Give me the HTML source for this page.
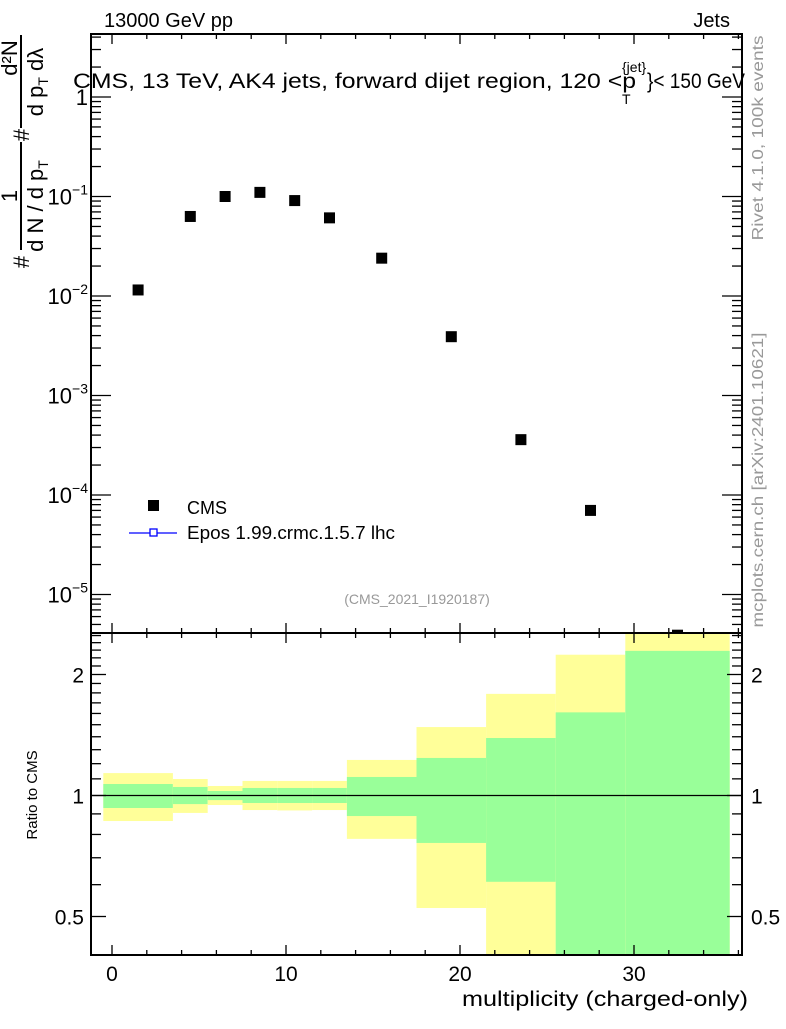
<!DOCTYPE html>
<html><head><meta charset="utf-8"><style>
body{margin:0;background:#fff}
svg text{font-family:"Liberation Sans",sans-serif}
</style></head><body>
<svg id="c" width="786" height="1024" xmlns="http://www.w3.org/2000/svg">
<g id="bands"></g>
<g id="marks"></g>
<g id="axes"></g>
<text x="104" y="27" font-size="20">13000 GeV pp</text>
<text x="730" y="27" font-size="20" text-anchor="end">Jets</text>
<g>
<text x="73" y="88" font-size="21" textLength="563" lengthAdjust="spacingAndGlyphs">CMS, 13 TeV, AK4 jets, forward dijet region, 120 &lt;p</text>
<text x="622" y="72" font-size="14">{jet}</text>
<text x="622" y="104" font-size="14">T</text>
<text x="647" y="88" font-size="21" textLength="98" lengthAdjust="spacingAndGlyphs">}&lt; 150 GeV</text>
</g>
<g font-size="22">
<line x1="21" y1="35" x2="21" y2="128" stroke="#000" stroke-width="2"/>
<line x1="21" y1="142" x2="21" y2="250" stroke="#000" stroke-width="2"/>
<text transform="translate(17,58) rotate(-90)" text-anchor="middle">d²N</text>
<text transform="translate(43,82) rotate(-90)" text-anchor="middle">d p<tspan font-size="14" dy="5">T</tspan><tspan dy="-5"> dλ</tspan></text>
<text transform="translate(29,135) rotate(-90)" text-anchor="middle">#</text>
<text transform="translate(17,196) rotate(-90)" text-anchor="middle">1</text>
<text transform="translate(43,206) rotate(-90)" text-anchor="middle">d N / d p<tspan font-size="14" dy="5">T</tspan></text>
<text transform="translate(29,262) rotate(-90)" text-anchor="middle">#</text>
</g>
<text transform="translate(37,795) rotate(-90)" font-size="15" text-anchor="middle">Ratio to CMS</text>
<text x="748" y="1006" font-size="21" text-anchor="end" textLength="286" lengthAdjust="spacingAndGlyphs">multiplicity (charged-only)</text>
<text transform="translate(763,138) rotate(-90)" font-size="16" fill="#999" text-anchor="middle" textLength="205" lengthAdjust="spacingAndGlyphs">Rivet 4.1.0,  100k events</text>
<text transform="translate(763,480) rotate(-90)" font-size="16" fill="#999" text-anchor="middle" textLength="295" lengthAdjust="spacingAndGlyphs">mcplots.cern.ch [arXiv:2401.10621]</text>
<text x="417" y="604" font-size="14" fill="#999" text-anchor="middle">(CMS_2021_I1920187)</text>
<g>
<rect x="148" y="500" width="11" height="11" fill="#000"/>
<text x="187" y="514" font-size="18">CMS</text>
<line x1="129" y1="533" x2="177" y2="533" stroke="#00f" stroke-width="1.3"/>
<rect x="150" y="529" width="7" height="7" fill="#fff" stroke="#00f" stroke-width="1.3"/>
<text x="187" y="539" font-size="18" textLength="208" lengthAdjust="spacingAndGlyphs">Epos 1.99.crmc.1.5.7 lhc</text>
</g>
</svg>
<script>
const binEdges=[-0.5,3.5,5.5,7.5,9.5,11.5,13.5,17.5,21.5,25.5,29.5,35.5];
const cmsX=[1.5,4.5,6.5,8.5,10.5,12.5,15.5,19.5,23.5,27.5,32.5];
const cmsY=[0.0115,0.063,0.1,0.11,0.091,0.061,0.024,0.0039,0.00036,0.00007,0.0000039];
const yellowHi=[1.137,1.099,1.056,1.087,1.087,1.087,1.226,1.48,1.79,2.24,2.7];
const yellowLo=[0.864,0.905,0.947,0.920,0.918,0.920,0.780,0.525,0.3,0.2,0.2];
const greenHi=[1.068,1.050,1.026,1.044,1.044,1.044,1.112,1.24,1.39,1.61,2.29];
const greenLo=[0.931,0.952,0.974,0.958,0.958,0.958,0.889,0.762,0.61,0.2,0.2];
const xTicks=[0,10,20,30];
const yTickExp=[0,-1,-2,-3,-4,-5];
const rTicks=[0.5,1,2];
const NS='http://www.w3.org/2000/svg';
const L=91,R=742,T=34,M=633,B=955;
const X=v=>112+v*17.4;
const Y=v=>97-Math.log10(v)*99.5;
const RY=v=>795.5-Math.log2(v)*121;
const clampR=y=>Math.max(M,Math.min(B,y));
function mk(tag,attrs,parent){const e=document.createElementNS(NS,tag);for(const k in attrs)e.setAttribute(k,attrs[k]);parent.appendChild(e);return e;}
const bands=document.getElementById('bands'),marks=document.getElementById('marks'),axes=document.getElementById('axes');
for(let i=0;i<binEdges.length-1;i++){
  const x0=X(binEdges[i]),x1=X(binEdges[i+1]);
  let y0=clampR(RY(yellowHi[i])),y1=clampR(RY(yellowLo[i]));
  const yb=mk('rect',{x:x0,y:y0,width:x1-x0,height:y1-y0,fill:'#ffff99'},bands);
  
  
  y0=clampR(RY(greenHi[i]));y1=clampR(RY(greenLo[i]));
  const gb=mk('rect',{x:x0,y:y0,width:x1-x0,height:y1-y0,fill:'#99ff99'},bands);
  
  
}
mk('line',{x1:L,y1:RY(1),x2:R,y2:RY(1),stroke:'#000','stroke-width':1.3},bands);
const clip=mk('clipPath',{id:'cp'},document.getElementById('c'));
mk('rect',{x:L,y:T,width:R-L,height:M-T},clip);
marks.setAttribute('clip-path','url(#cp)');
for(let i=0;i<cmsX.length;i++){
  const p=mk('rect',{x:X(cmsX[i])-5.5,y:Y(cmsY[i])-5.5,width:11,height:11,fill:'#000'},marks);
  
  
}
const ln=(a,b,c,d,w)=>mk('line',{x1:a,y1:b,x2:c,y2:d,stroke:'#000','stroke-width':w||1.3},axes);
mk('rect',{x:L,y:T,width:R-L,height:B-T,fill:'none',stroke:'#000','stroke-width':2},axes);
ln(L,M,R,M,2);
for(let v=-1;v<=36;v++){
  const x=X(v);if(x<L||x>R)continue;
  const len=v%10===0?10:(v%2===0?5:0);if(!len)continue;
  [[T,1],[M,-1],[M,1],[B,-1]].forEach(([y,s])=>ln(x,y,x,y+s*len));
}
xTicks.forEach(v=>{const t=mk('text',{x:X(v),y:981,'font-size':21,'text-anchor':'middle'},axes);t.textContent=v;
 
 });
for(let e=1;e>=-6;e--){for(let m=1;m<10;m++){const y=Y(m*Math.pow(10,e));if(y<T||y>M)continue;const len=m===1?20:10;ln(L,y,L+len,y);ln(R,y,R-len,y);}}
yTickExp.forEach(e=>{
  const t=mk('text',{x:88,y:Y(Math.pow(10,e))+8,'font-size':22,'text-anchor':'end'},axes);
  
  
  if(e===0)t.textContent='1';else{t.textContent='10';const s=mk('tspan',{'font-size':14,dy:-10},t);s.textContent='\u2212'+(-e);}
});
for(let v=0.4;v<=2.6001;v+=0.1){const y=RY(v);if(y<M||y>B)continue;const maj=Math.abs(v-0.5)<1e-6||Math.abs(v-1)<1e-6||Math.abs(v-2)<1e-6;const len=maj?15:10;ln(L,y,L+len,y);ln(R,y,R-len,y);}
rTicks.forEach(v=>{
  const a=mk('text',{x:84,y:RY(v)+8,'font-size':21,'text-anchor':'end'},axes);a.textContent=v;
  
  
  const b=mk('text',{x:751,y:RY(v)+8,'font-size':21},axes);b.textContent=v;
  
  
});
</script>
</body></html>
